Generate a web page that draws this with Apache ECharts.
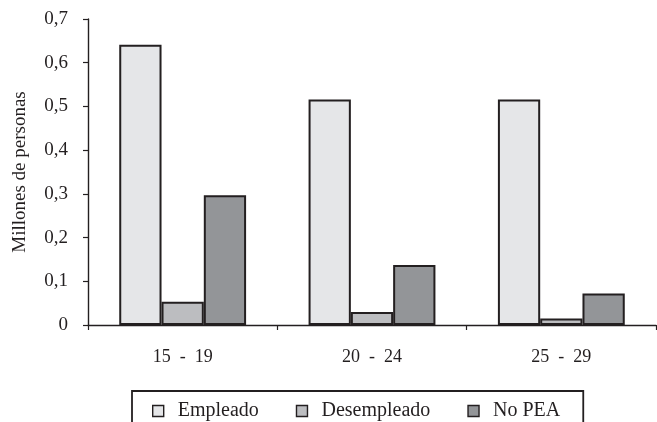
<!DOCTYPE html>
<html>
<head>
<meta charset="utf-8">
<script src="https://cdn.jsdelivr.net/npm/echarts@6/dist/echarts.min.js"></script>
<style>
html,body{margin:0;padding:0;background:#fff;}
#chart{width:657px;height:422px;}
</style>
</head>
<body>
<div id="chart"></div>
<script>
// Age groups and population by activity status (millions)
const categories = ['15  -  19', '20  -  24', '25  -  29'];
const empleado = [0.641, 0.516, 0.516];
const desempleado = [0.053, 0.030, 0.015];
const noPEA = [0.297, 0.137, 0.072];
const seriesNames = ['Empleado', 'Desempleado', 'No PEA'];
const yTicks = [0, 0.1, 0.2, 0.3, 0.4, 0.5, 0.6, 0.7];

const font = '"Liberation Serif", "DejaVu Serif", serif';
const ink = '#231f20';
const fills = ['#e5e6e8', '#bcbdc0', '#939598'];

const chart = echarts.init(document.getElementById('chart'), null, {renderer: 'canvas'});

function barSeries(name, data, color) {
  return {
    name: name,
    type: 'bar',
    data: data,
    barGap: '0%',
    barCategoryGap: '33%',
    itemStyle: {color: color, borderColor: ink, borderWidth: 2},
    emphasis: {disabled: true}
  };
}

chart.setOption({
  animation: false,
  textStyle: {fontFamily: font},
  grid: {left: 88, right: 1, top: 19, bottom: 97, containLabel: false},
  legend: {
    data: seriesNames,
    left: 132,
    top: 391,
    padding: [10, 23, 30, 20],
    itemGap: 37,
    itemWidth: 11,
    itemHeight: 11,
    icon: 'rect',
    borderColor: ink,
    borderWidth: 1.8,
    textStyle: {fontFamily: font, fontSize: 20, color: ink, padding: [0, 0, 0, 9]},
    itemStyle: {borderColor: ink, borderWidth: 1.4}
  },
  xAxis: {
    type: 'category',
    data: categories,
    axisLine: {lineStyle: {color: ink, width: 1.4}},
    axisTick: {show: true, length: 5, lineStyle: {color: ink, width: 1.2}},
    axisLabel: {fontFamily: font, fontSize: 18, color: ink, margin: 23}
  },
  yAxis: {
    type: 'value',
    min: 0,
    max: 0.7,
    interval: 0.1,
    name: 'Millones de personas',
    nameLocation: 'middle',
    nameGap: 58,
    nameTextStyle: {fontFamily: font, fontSize: 19, color: ink},
    axisLine: {show: true, lineStyle: {color: ink, width: 1.4}},
    axisTick: {show: true, length: 5, lineStyle: {color: ink, width: 1.2}},
    splitLine: {show: false},
    axisLabel: {
      fontFamily: font, fontSize: 19, color: ink, margin: 20,
      formatter: function (v) {
        const t = yTicks.find(function (k) { return Math.abs(k - v) < 1e-9; });
        return t === 0 ? '0' : String(+(t !== undefined ? t : v).toFixed(1)).replace('.', ',');
      }
    }
  },
  series: [
    barSeries(seriesNames[0], empleado, fills[0]),
    barSeries(seriesNames[1], desempleado, fills[1]),
    barSeries(seriesNames[2], noPEA, fills[2])
  ]
});
</script>
</body>
</html>
